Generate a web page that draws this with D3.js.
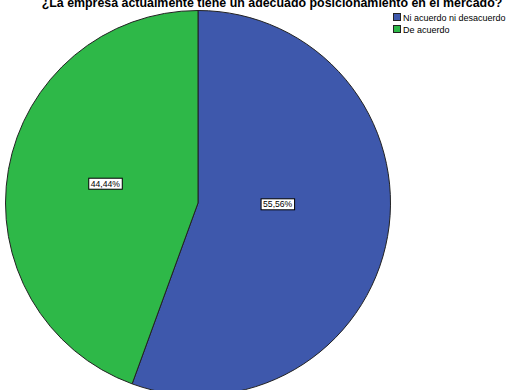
<!DOCTYPE html>
<html><head><meta charset="utf-8">
<script src="https://cdn.jsdelivr.net/npm/d3@7"></script>
<style>body{margin:0;background:#fff}svg{display:block}</style>
</head><body>
<script>
const title = "¿La empresa actualmente tiene un adecuado posicionamiento en el mercado?";
const categories = ["Ni acuerdo ni desacuerdo", "De acuerdo"];
const values = [55.56, 44.44];
const labels = ["55,56%", "44,44%"];
const colors = ["#3E58AC", "#2EB848"];

const W = 509, H = 390;
const cx = 198, cy = 203, R = 192.5;
// small layout nudges for label boxes (pixels), per slice
const labelNudge = [[-7, -14], [-6, -4]];
const svg = d3.select("body").append("svg").attr("width", W).attr("height", H);

svg.append("text").attr("x", 272).attr("y", 7).attr("text-anchor", "middle")
  .attr("font-family", "Liberation Sans, Arial, sans-serif").attr("font-weight", "bold")
  .attr("font-size", 12.4).attr("fill", "#000").text(title);

const data = categories.map((c, i) => ({cat: c, value: values[i], label: labels[i], color: colors[i]}));
const pie = d3.pie().value(d => d.value).sort(null);
const arc = d3.arc().innerRadius(0).outerRadius(R);
const g = svg.append("g").attr("transform", `translate(${cx},${cy})`);
const arcs = pie(data);
g.selectAll("path").data(arcs).join("path")
  .attr("d", arc).attr("fill", d => d.data.color)
  .attr("stroke", "#222").attr("stroke-width", 1);

const labelArc = d3.arc().innerRadius(88).outerRadius(88);
arcs.forEach((d, i) => {
  const [x, y] = labelArc.centroid(d);
  const lg = g.append("g").attr("transform", `translate(${x + labelNudge[i][0]},${y + labelNudge[i][1]})`);
  const t = lg.append("text").attr("text-anchor", "middle").attr("dy", "0.35em")
    .attr("font-family", "Liberation Sans, Arial, sans-serif").attr("font-size", 8.6)
    .attr("fill", "#000").text(d.data.label);
  const bb = t.node().getBBox();
  lg.insert("rect", "text").attr("x", bb.x - 2).attr("y", bb.y - 0.5)
    .attr("width", bb.width + 4).attr("height", bb.height + 1)
    .attr("fill", "#fff").attr("stroke", "#000").attr("stroke-width", 1);
});

const leg = svg.append("g").attr("transform", "translate(393,13)");
data.forEach((d, i) => {
  const row = leg.append("g").attr("transform", `translate(0,${i * 12})`);
  row.append("rect").attr("x", 0.5).attr("y", 0.5).attr("width", 7).attr("height", 7)
    .attr("fill", d.color).attr("stroke", "#222").attr("stroke-width", 1);
  row.append("text").attr("x", 10).attr("y", 7.5)
    .attr("font-family", "Liberation Sans, Arial, sans-serif").attr("font-size", 9)
    .attr("fill", "#000").text(d.cat);
});
</script>
</body></html>
